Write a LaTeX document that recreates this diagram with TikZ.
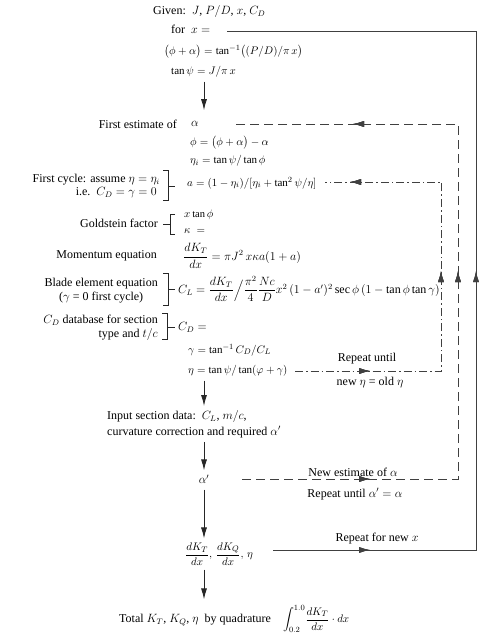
\documentclass[tikz,border=0pt]{standalone}
\usepackage{amsmath}
\usepackage{fontspec}
\setmainfont{Liberation Serif}
\usetikzlibrary{arrows.meta,decorations.markings}
\begin{document}
\begin{tikzpicture}[x=1pt,y=-1pt,
  txt/.style={inner sep=0pt,font=\fontsize{12}{14}\selectfont},
  eqs/.style={inner sep=0pt,font=\fontsize{11}{13}\selectfont},
  arr/.style={-{Latex[length=11pt,width=6pt]},line width=0.9pt,black!85},
  loopline/.style={line width=0.9pt,black!75},
  dsh/.style={loopline,dash pattern=on 9pt off 5pt},
  dshdot/.style={loopline,dash pattern=on 8pt off 3pt on 1.5pt off 3pt},
  tipat/.style={postaction={decorate},decoration={markings,mark=at position #1 with {\arrow{Latex[length=11pt,width=6pt]}}}},
  brk/.style={line width=0.6pt,black!85}
]
\useasboundingbox (0,0) rectangle (493,636);
\coordinate (col) at (204,0);

% main column
\node[txt,anchor=west] (given) at (153,12) {Given:\ \ $J$, $P/D$, $x$, $C_D$};
\node[txt,anchor=west] (forx) at (171,29) {for\ \ $x=$};
\node[eqs,anchor=west] (phialpha) at (164,52) {$\bigl(\phi+\alpha\bigr)=\tan^{-1}\bigl((P/D)/\pi\,x\bigr)$};
\node[eqs,anchor=west] (tanpsi) at (171,72) {$\tan\psi=J/\pi\,x$};

\node[txt,anchor=east] (firstest) at (177,124) {First estimate of};
\node[txt] (alpha) at (195,124) {$\alpha$};
\node[eqs,anchor=west] (phi) at (190,143) {$\phi=\bigl(\phi+\alpha\bigr)-\alpha$};
\node[eqs,anchor=west] (etai) at (190,161) {$\eta_i=\tan\psi/\tan\phi$};
\node[eqs,anchor=west] (aeq) at (187,183) {$a=(1-\eta_i)/[\eta_i+\tan^2\psi/\eta]$};
\node[txt,anchor=east] (fc1) at (160,180) {First cycle: assume $\eta=\eta_i$};
\node[txt,anchor=east] (fc2) at (157,193) {i.e.\ \ $C_D=\gamma=0$};
\draw[brk] (163,170) -- (168,170) -- (168,200) -- (163,200);
\draw[brk] (168,186) -- (175,186);

\node[txt,anchor=east] (gold) at (158,223) {Goldstein factor};
\draw[brk] (175,214) -- (170,214) -- (170,234) -- (175,234);
\draw[brk] (170,224) -- (163,224);
\node[txt,anchor=west,font=\fontsize{10.5}{13}\selectfont] (xtan) at (184,215) {$x\tan\phi$};
\node[txt,anchor=west,font=\fontsize{10.5}{13}\selectfont] (kappa) at (184,231) {$\kappa\;=$};

\node[txt,anchor=east] (mom) at (157,256) {Momentum equation};
\node[txt,anchor=west] (momeq) at (183,256) {$\dfrac{dK_T}{dx}=\pi J^2\,x\kappa a(1+a)$};

\node[txt,anchor=east,align=center] (blade) at (158,291) {Blade element equation\\($\gamma$\ = 0 first cycle)};
\draw[brk] (163,273) -- (168,273) -- (168,305) -- (163,305);
\draw[brk] (168,289) -- (175,289);
\node[txt,anchor=west] (cleq) at (178,289) {$C_L=\dfrac{dK_T}{dx}\Big/\dfrac{\pi^2}{4}\dfrac{Nc}{D}x^2\,(1-a')^2\sec\phi\,(1-\tan\phi\tan\gamma)$};

\node[txt,anchor=east,align=right] (cddb) at (158,328) {$C_D$ database for section\\type and $t/c$};
\draw[brk] (162,313) -- (167,313) -- (167,339) -- (162,339);
\draw[brk] (167,327) -- (175,327);
\node[txt,anchor=west] (cd) at (178,327) {$C_D=$};
\node[eqs,anchor=west] (gamma) at (188,350) {$\gamma=\tan^{-1}C_D/C_L$};
\node[eqs,anchor=west] (eta) at (188,371) {$\eta=\tan\psi/\tan(\varphi+\gamma)$};
\node[txt] (rep1) at (367,359) {Repeat until};
\node[txt] (rep2) at (370,383) {new $\eta$ = old $\eta$};

\node[txt,anchor=west,align=left,font=\fontsize{12}{16}\selectfont] (input) at (107,424) {Input section data:\ \ $C_L$, $m/c$,\\curvature correction and required $\alpha'$};
\node[txt] (alphap) at (204,479) {$\alpha'$};
\node[txt] (newest) at (353,472) {New estimate of $\alpha$};
\node[txt] (repal) at (355,494) {Repeat until $\alpha'=\alpha$};

\node[eqs,anchor=west] (dk) at (185,554) {$\dfrac{dK_T}{dx},\,\dfrac{dK_Q}{dx},\,\eta$};
\node[txt] (repx) at (377,539) {Repeat for new $x$};
\node[txt,anchor=west] (total) at (119,619) {Total $K_T$, $K_Q$, $\eta$\ \ by quadrature\quad {\fontsize{11}{13}\selectfont$\displaystyle\int_{0.2}^{1.0}\!\frac{dK_T}{dx}\cdot dx$}};

% main arrows
\draw[arr,shorten <=4pt,shorten >=11pt] (tanpsi.south -| col) -- (alpha.north -| col);
\draw[arr,shorten <=4pt,shorten >=4pt] (eta.south -| col) -- (input.north -| col);
\draw[arr,shorten <=4pt,shorten >=4pt] (input.south -| col) -- (alphap.north -| col);
\draw[arr,shorten <=6pt,shorten >=4pt] (alphap.south -| col) -- (dk.north -| col);
\draw[arr,shorten <=4pt,shorten >=6pt] (dk.south -| col) -- (total.north -| col);

% loop coordinates
\coordinate (sB) at (273,550);
\coordinate (sBR) at (476,550);
\coordinate (sTR) at (476,31);
\coordinate (sT) at (227,31);
\coordinate (dB) at (242,479);
\coordinate (dBR) at (458,479);
\coordinate (dTR) at (458,124);
\coordinate (dT) at (232,124);
\coordinate (cB) at (295,371);
\coordinate (cBR) at (441,371);
\coordinate (cTR) at (441,182);
\coordinate (cT) at (325,182);

\draw[loopline,tipat=97pt,tipat=482pt] (sB) -- (sBR) -- (sTR) -- (sT);
\draw[dsh,tipat=128pt,tipat=424pt,tipat=676pt] (dB) -- (dBR) -- (dTR) -- (dT);
\draw[dshdot,tipat=75pt,tipat=246pt,tipat=426pt] (cB) -- (cBR) -- (cTR) -- (cT);
\end{tikzpicture}
\end{document}
